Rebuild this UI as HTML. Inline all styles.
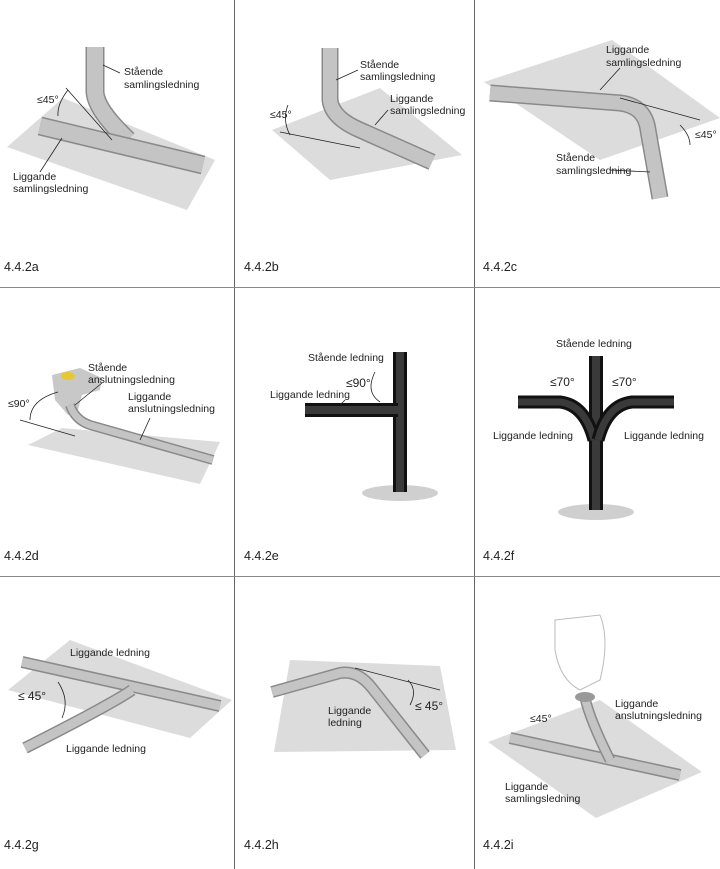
<!DOCTYPE html>
<html><head><meta charset="utf-8"><style>
html,body{margin:0;padding:0;background:#fff}
svg{display:block}
text{font-family:"Liberation Sans",sans-serif;font-size:10.5px;fill:#222}
.lab{font-size:12.5px;fill:#222}
.pl{fill:#dcdcdc}
.po{stroke:#8a8a8a;stroke-linecap:butt;fill:none}
.pi{stroke:#c4c4c4;stroke-linecap:butt;fill:none}
.do{stroke:#111;fill:none}
.di{stroke:#3a3a3a;fill:none}
.ln{stroke:#222;stroke-width:0.8;fill:none}
</style></head><body>
<svg width="720" height="869" viewBox="0 0 720 869">
<line x1="234.5" y1="0" x2="234.5" y2="869" stroke="#666" stroke-width="1"/>
<line x1="474.5" y1="0" x2="474.5" y2="869" stroke="#666" stroke-width="1"/>
<line x1="0" y1="287.5" x2="720" y2="287.5" stroke="#888" stroke-width="1"/>
<line x1="0" y1="576.5" x2="720" y2="576.5" stroke="#888" stroke-width="1"/>

<!-- A -->
<polygon class="pl" points="7,147 63,98 215,160 187,210"/>
<path class="po" stroke-width="19" d="M95,47 L95,92 Q96,110 128,140"/>
<path class="pi" stroke-width="16" d="M95,47 L95,92 Q96,110 128,140"/>
<path class="po" stroke-width="19" d="M40,126 L203,165"/>
<path class="pi" stroke-width="16" d="M40,126 L203,165"/>
<text x="124" y="75">Stående</text><text x="124" y="88">samlingsledning</text>
<text x="37" y="103">≤45°</text>
<text x="13" y="180">Liggande</text><text x="13" y="192">samlingsledning</text>
<path class="ln" d="M66,88 L112,140 M58,116 Q57,104 68,90 M62,138 L40,172 M120,73 L103,65"/>
<text class="lab" x="4" y="271">4.4.2a</text>

<!-- B -->
<polygon class="pl" points="272,130 380,88 462,155 330,180"/>
<path class="po" stroke-width="17" d="M330,48 L330,100 Q332,118 360,130 L432,162"/>
<path class="pi" stroke-width="14" d="M330,48 L330,100 Q332,118 360,130 L432,162"/>
<text x="360" y="68">Stående</text><text x="360" y="80">samlingsledning</text>
<text x="390" y="102">Liggande</text><text x="390" y="114">samlingsledning</text>
<text x="270" y="118">≤45°</text>
<path class="ln" d="M280,132 L360,148 M288,105 Q282,120 290,135 M358,70 L336,80 M388,110 L375,125"/>
<text class="lab" x="244" y="271">4.4.2b</text>

<!-- C -->
<polygon class="pl" points="484,82 612,40 720,118 600,160"/>
<path class="po" stroke-width="17" d="M490,93 L620,103 Q645,106 648,130 L660,198"/>
<path class="pi" stroke-width="14" d="M490,93 L620,103 Q645,106 648,130 L660,198"/>
<text x="606" y="53">Liggande</text><text x="606" y="66">samlingsledning</text>
<text x="695" y="138">≤45°</text>
<text x="556" y="161">Stående</text><text x="556" y="174">samlingsledning</text>
<path class="ln" d="M620,98 L700,120 M680,125 Q690,135 690,145 M620,68 L600,90 M610,170 L650,172"/>
<text class="lab" x="483" y="271">4.4.2c</text>

<!-- D -->
<polygon class="pl" points="28,445 62,428 220,442 200,484"/>
<polygon fill="#c8c8c8" points="52,375 80,368 102,378 100,390 82,395 78,410 68,415 55,400"/>
<ellipse cx="68" cy="376" rx="7" ry="4" fill="#e8c830"/>
<path class="po" stroke-width="10" d="M70,405 Q75,420 90,425 L213,460"/>
<path class="pi" stroke-width="7" d="M70,405 Q75,420 90,425 L213,460"/>
<text x="88" y="371">Stående</text><text x="88" y="383">anslutningsledning</text>
<text x="128" y="400">Liggande</text><text x="128" y="412">anslutningsledning</text>
<text x="8" y="407">≤90°</text>
<path class="ln" d="M20,420 L75,436 M58,392 Q30,400 30,420 M102,383 L75,405 M150,418 L140,440"/>
<text class="lab" x="4" y="560">4.4.2d</text>

<!-- E -->
<ellipse cx="400" cy="493" rx="38" ry="8" fill="#cfcfcf"/>
<path class="do" stroke-width="14" d="M400,352 L400,492"/>
<path class="di" stroke-width="8" d="M400,352 L400,492"/>
<path class="do" stroke-width="14" d="M305,410 L398,410"/>
<path class="di" stroke-width="8" d="M305,410 L398,410"/>
<text x="308" y="361">Stående ledning</text>
<text x="346" y="387" style="font-size:12px">≤90°</text>
<text x="270" y="398">Liggande ledning</text>
<path class="ln" d="M380,402 Q365,392 375,372 M345,400 L340,405"/>
<text class="lab" x="244" y="560">4.4.2e</text>

<!-- F -->
<ellipse cx="596" cy="512" rx="38" ry="8" fill="#cfcfcf"/>
<path class="do" stroke-width="14" d="M596,356 L596,510"/>
<path class="di" stroke-width="8" d="M596,356 L596,510"/>
<path class="do" stroke-width="13" d="M518,402 L560,402 Q585,405 594,440"/>
<path class="di" stroke-width="7" d="M518,402 L560,402 Q585,405 594,440"/>
<path class="do" stroke-width="13" d="M674,402 L632,402 Q607,405 598,440"/>
<path class="di" stroke-width="7" d="M674,402 L632,402 Q607,405 598,440"/>
<text x="556" y="347">Stående ledning</text>
<text x="550" y="386" style="font-size:12px">≤70°</text>
<text x="612" y="386" style="font-size:12px">≤70°</text>
<text x="493" y="439">Liggande ledning</text>
<text x="624" y="439">Liggande ledning</text>
<text class="lab" x="483" y="560">4.4.2f</text>

<!-- G -->
<polygon class="pl" points="8,690 70,640 232,700 190,738"/>
<path class="po" stroke-width="12" d="M22,662 L220,706"/>
<path class="pi" stroke-width="9" d="M22,662 L220,706"/>
<path class="po" stroke-width="12" d="M132,690 Q110,705 25,748"/>
<path class="pi" stroke-width="9" d="M132,690 Q110,705 25,748"/>
<text x="70" y="656">Liggande ledning</text>
<text x="18" y="700" style="font-size:12px">≤ 45°</text>
<text x="66" y="752">Liggande ledning</text>
<path class="ln" d="M58,682 Q70,700 62,718"/>
<text class="lab" x="4" y="849">4.4.2g</text>

<!-- H -->
<polygon class="pl" points="290,660 440,666 456,750 274,752"/>
<path class="po" stroke-width="12" d="M272,692 L340,673 Q358,670 372,688 L425,755"/>
<path class="pi" stroke-width="9" d="M272,692 L340,673 Q358,670 372,688 L425,755"/>
<text x="328" y="714">Liggande</text><text x="328" y="726">ledning</text>
<text x="415" y="710" style="font-size:12px">≤ 45°</text>
<path class="ln" d="M355,668 L440,690 M408,680 Q418,690 410,705"/>
<text class="lab" x="244" y="849">4.4.2h</text>

<!-- I -->
<polygon class="pl" points="488,742 600,700 702,772 596,818"/>
<path d="M555,620 L600,615 Q610,640 600,680 L580,690 Q560,680 555,650 Z" fill="#fff" stroke="#bbb" stroke-width="1"/>
<path class="po" stroke-width="12" d="M510,738 L680,775"/>
<path class="pi" stroke-width="9" d="M510,738 L680,775"/>
<path class="po" stroke-width="11" d="M585,698 Q590,720 610,760"/>
<path class="pi" stroke-width="8" d="M585,698 Q590,720 610,760"/>
<ellipse cx="585" cy="697" rx="10" ry="5" fill="#999"/>
<text x="530" y="722">≤45°</text>
<text x="615" y="707">Liggande</text><text x="615" y="719">anslutningsledning</text>
<text x="505" y="790">Liggande</text><text x="505" y="802">samlingsledning</text>
<text class="lab" x="483" y="849">4.4.2i</text>
</svg>
</body></html>
